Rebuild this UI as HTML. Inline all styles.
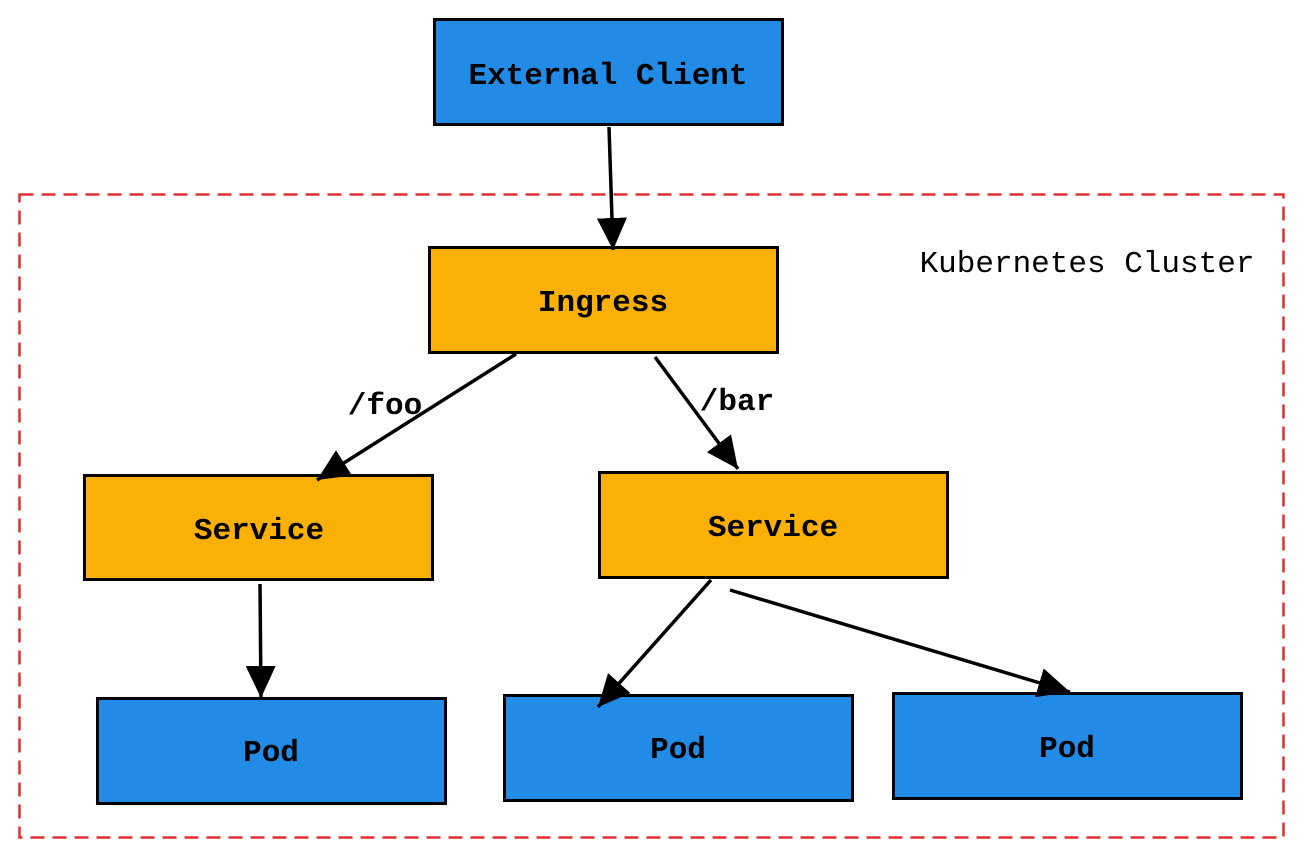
<!DOCTYPE html>
<html><head><style>body{margin:0;background:#fff}svg{display:block}</style></head>
<body>
<svg width="1304" height="859" viewBox="0 0 1304 859" xmlns="http://www.w3.org/2000/svg">
<defs>
<marker id="a" markerUnits="userSpaceOnUse" markerWidth="34" markerHeight="30" refX="32" refY="15" orient="auto">
<path d="M0,0 L32,15 L0,30 Z" fill="#000"/>
</marker>
</defs>
<rect x="19.5" y="194.5" width="1264" height="643" fill="none" stroke="#e03131" stroke-width="2.5" stroke-dasharray="14,8"/>
<g stroke="#000" stroke-width="3">
<rect x="434.5" y="19.5" width="348" height="105" fill="#228be6"/>
<rect x="429.5" y="247.5" width="348" height="105" fill="#fab005"/>
<rect x="84.5" y="475.5" width="348" height="104" fill="#fab005"/>
<rect x="599.5" y="472.5" width="348" height="105" fill="#fab005"/>
<rect x="97.5" y="698.5" width="348" height="105" fill="#228be6"/>
<rect x="504.5" y="695.5" width="348" height="105" fill="#228be6"/>
<rect x="893.5" y="693.5" width="348" height="105" fill="#228be6"/>
</g>
<g stroke="#000" stroke-width="3.5" fill="none" marker-end="url(#a)">
<line x1="609" y1="127" x2="613" y2="250"/>
<line x1="516" y1="354" x2="317" y2="480"/>
<line x1="655" y1="357" x2="738" y2="469"/>
<line x1="260" y1="584" x2="261" y2="698"/>
<line x1="711" y1="580" x2="598" y2="707"/>
<line x1="730" y1="590" x2="1070" y2="692"/>
</g>
<g font-family="'Liberation Mono', monospace" font-size="31" font-weight="bold" text-anchor="middle" fill="#000">
<text x="608" y="84">External Client</text>
<text x="603" y="311">Ingress</text>
<text x="259" y="539">Service</text>
<text x="773" y="536">Service</text>
<text x="271" y="761">Pod</text>
<text x="678" y="758">Pod</text>
<text x="1067" y="757">Pod</text>
<text x="385" y="414">/foo</text>
<text x="737" y="410">/bar</text>
</g>
<text x="1087" y="272" font-family="'Liberation Mono', monospace" font-size="31" text-anchor="middle" fill="#000">Kubernetes Cluster</text>
</svg>
</body></html>
